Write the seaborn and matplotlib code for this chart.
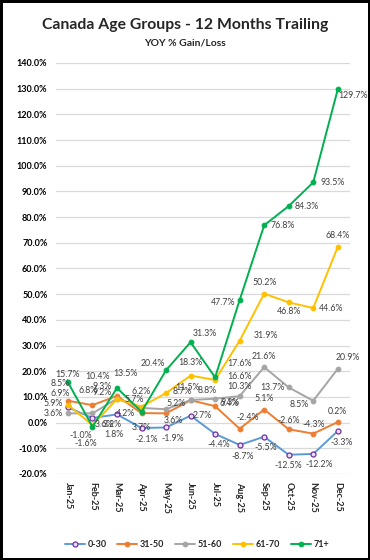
import matplotlib
matplotlib.use("Agg")
import matplotlib.pyplot as plt
import seaborn as sns
import pandas as pd
import numpy as np

# chart data
months = ['Jan-25', 'Feb-25', 'Mar-25', 'Apr-25', 'May-25', 'Jun-25',
          'Jul-25', 'Aug-25', 'Sep-25', 'Oct-25', 'Nov-25', 'Dec-25']
age_0_30 = [5.9, 1.8, 3.2, -2.1, -1.9, 2.7, -4.4, -8.7, -5.5, -12.5, -12.2, -3.3]
age_31_50 = [8.5, 6.8, 10.4, 3.7, 3.6, 8.7, 6.4, -2.4, 5.1, -2.6, -4.3, 0.2]
age_51_60 = [3.6, 3.6, 9.3, 5.7, 5.2, 8.8, 9.3, 10.3, 21.6, 13.7, 8.5, 20.9]
age_61_70 = [6.9, -1.0, 9.2, 6.2, 11.5, 18.3, 16.6, 31.9, 50.2, 46.8, 44.6, 68.4]
age_71_plus = [15.7, -1.6, 13.5, 4.2, 20.4, 31.3, 17.6, 47.7, 76.8, 84.3, 93.5, 129.7]

series_names = ['0-30', '31-50', '51-60', '61-70', '71+']
series_values = [age_0_30, age_31_50, age_51_60, age_61_70, age_71_plus]
colors = ['#5B9BD5', '#ED7D31', '#A5A5A5', '#FFC000', '#00B050']

# label offsets in pixels (dx, dy), mimicking Excel's placement
px = 0.72
label_offsets = {
    '0-30': [(-15, 4), (21, -17), (-5, -10), (5, -12), (7, -11), (12, 0),
             (4, -11), (3, -12), (2, -11), (0, -11), (6, -11), (4, -11)],
    '31-50': [(-8, 17), (-4, 15), (-20, 19), (0, -14), (7, -7), (-8, 9),
              (14, 3), (8, 11), (0, 11), (0, 9), (0, 9), (0, 11)],
    '51-60': [(-15, 0), (12, -11), (-15, 12), (-7, 8), (10, 6), (17, 9),
              (15, -4), (0, 10), (0, 11), (-16, 0), (-14, -4), (10, 11)],
    '61-70': [(-8, 11), (-12, -10), (-15, 6), (0, 15), (21, 6), (0, 13),
              (24, 3), (26, 5), (0, 11), (0, -9), (18, 0), (0, 11)],
    '71+': [(0, 8), (-7, -17), (8, 14), (-16, -2), (-13, 7), (14, 9),
            (24, 14), (-17, -2), (19, 0), (18, 0), (19, 0), (15, -6)],
}

df = pd.DataFrame({'x': np.tile(np.arange(len(months)), len(series_names)),
                   'value': np.concatenate(series_values),
                   'group': np.repeat(series_names, len(months))})

sns.set_style('white')
plt.rcParams['font.family'] = ['Lato', 'DejaVu Sans']

fig = plt.figure(figsize=(3.7, 5.6), dpi=100, facecolor='white',
                 edgecolor='black', linewidth=2.5)
ax = fig.add_axes([0.1505, 0.1536, 0.7955, 0.734])

for name, color in zip(series_names, colors):
    sub = df[df['group'] == name]
    if name == '0-30':
        mk = dict(marker='o', markersize=3.6, markerfacecolor='#E8E0F5',
                  markeredgecolor='#7030A0', markeredgewidth=0.9)
    else:
        mk = dict(marker='o', markersize=3.4, markerfacecolor=color,
                  markeredgecolor=color)
    sns.lineplot(data=sub, x='x', y='value', color=color, linewidth=1.4,
                 ax=ax, label=name, **mk)
    for (xi, yi), (dx, dy) in zip(zip(sub['x'], sub['value']), label_offsets[name]):
        ax.annotate(f'{yi:.1f}%', (xi, yi), xytext=(dx * px, dy * px),
                    textcoords='offset points', ha='center', va='center',
                    fontsize=6.3, color='#404040', annotation_clip=False)

ax.set_xlim(-0.5, len(months) - 0.5)
ax.set_ylim(-20, 140)
ax.set_yticks(np.arange(-20, 141, 10))
ax.set_yticklabels([f'{v:.1f}%' for v in np.arange(-20, 141, 10)],
                   fontsize=6.5, fontweight='bold', color='#000000')
ax.set_xticks(np.arange(len(months)))
ax.set_xticklabels(months, rotation=-90, fontsize=6.5, fontweight='bold')
ax.tick_params(axis='both', length=0, pad=6)
ax.set_xlabel('')
ax.set_ylabel('')
ax.grid(axis='y', color='#D9D9D9', linewidth=0.9)
ax.set_axisbelow(True)
for side in ['top', 'right', 'left', 'bottom']:
    ax.spines[side].set_visible(False)

handles, labels = ax.get_legend_handles_labels()
ax.legend(handles, labels, loc='center', bbox_to_anchor=(0.48, -0.172),
          ncol=5, frameon=False, handlelength=2.2,
          columnspacing=1.2, handletextpad=0.3,
          prop={'weight': 'bold', 'size': 6.5})

fig.text(0.5, 0.955, 'Canada Age Groups - 12 Months Trailing',
         ha='center', va='center', fontsize=11.3, fontweight='bold')
fig.text(0.5, 0.923, 'YOY % Gain/Loss', ha='center', va='center',
         fontsize=7.5, fontweight='bold')

fig.savefig('out.png', dpi=100, facecolor='white', edgecolor=fig.get_edgecolor())
